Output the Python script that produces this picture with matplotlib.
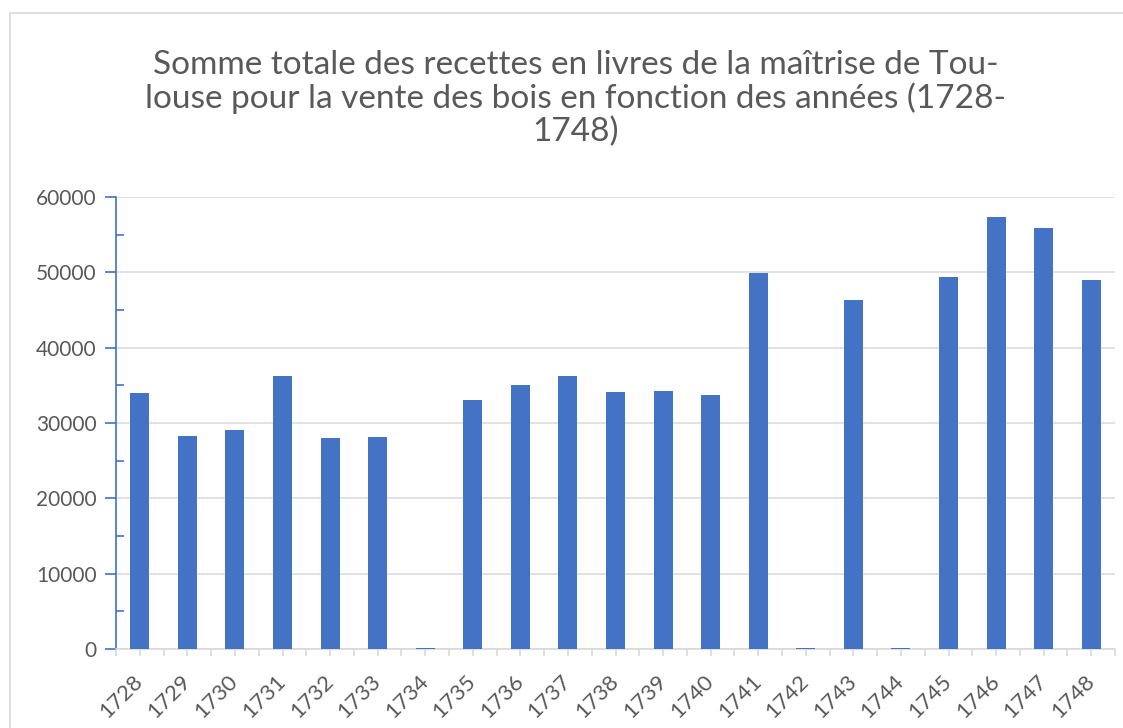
import matplotlib
matplotlib.use("Agg")
import matplotlib.pyplot as plt
from matplotlib.patches import Rectangle
from matplotlib.ticker import MultipleLocator

years = ['1728', '1729', '1730', '1731', '1732', '1733', '1734', '1735', '1736', '1737', '1738',
         '1739', '1740', '1741', '1742', '1743', '1744', '1745', '1746', '1747', '1748']
recettes = [34000, 28300, 29100, 36200, 28000, 28100, 100, 33000, 35050, 36250, 34100,
            34250, 33700, 49900, 100, 46350, 100, 49400, 57350, 55900, 49000]
yticks = [0, 10000, 20000, 30000, 40000, 50000, 60000]

title = ("Somme totale des recettes en livres de la maîtrise de Tou-\n"
         "louse pour la vente des bois en fonction des années (1728-\n"
         "1748)")

plt.rcParams['font.family'] = ['Lato', 'DejaVu Sans']
grey_txt = '#595959'
blue = '#4472C4'
grid_c = '#D9D9D9'

fig = plt.figure(figsize=(11.23, 7.28), dpi=100)
ax = fig.add_axes([116/1123, 1 - 649/728, 999/1123, 452/728])

# chart frame
fig.patches.append(Rectangle((10/1123, -0.1), 1.2, 1 - 13/728 + 0.1,
                             transform=fig.transFigure, fill=False,
                             edgecolor=grid_c, linewidth=1.2))

x = list(range(len(years)))
ax.bar(x, recettes, width=0.4, color=blue, zorder=3)

ax.set_xlim(-0.5, len(years) - 0.5)
ax.set_ylim(0, 60000)
ax.set_yticks(yticks)
ax.set_yticklabels([str(v) for v in yticks])
ax.yaxis.set_minor_locator(MultipleLocator(5000))
ax.set_xticks(x)
ax.set_xticklabels(years, rotation=45, ha='right', va='center', rotation_mode='anchor')
ax.set_xticks([i - 0.5 for i in range(len(years) + 1)], minor=True)

ax.grid(axis='y', color=grid_c, linewidth=1.1, zorder=0)
ax.set_axisbelow(True)

for s in ['top', 'right']:
    ax.spines[s].set_visible(False)
ax.spines['left'].set_color(blue)
ax.spines['left'].set_linewidth(1.2)
ax.spines['bottom'].set_color(grid_c)
ax.spines['bottom'].set_linewidth(1.2)

ax.tick_params(axis='y', which='major', direction='out', length=8, width=1.2,
               color=blue, labelcolor=grey_txt, labelsize=15, pad=6)
ax.tick_params(axis='y', which='minor', direction='in', length=6, width=1.2, color=blue)
ax.tick_params(axis='x', which='both', direction='out', length=5, width=1.2,
               color=grid_c, labelcolor=grey_txt, labelsize=16, pad=16)

fig.text(0.5125, 1 - 50/728, title, ha='center', va='top', fontsize=24,
         color=grey_txt, linespacing=1.1)

fig.savefig('out.png', dpi=100)
